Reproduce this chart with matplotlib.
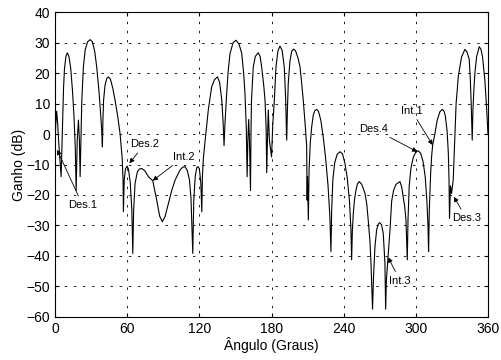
import matplotlib
matplotlib.use("Agg")
import matplotlib.pyplot as plt

plt.rcParams['font.family'] = ['Liberation Sans', 'DejaVu Sans']

# diagrama de radiacao (graus, dB)
angulo = [0, 0.5, 1.3, 2.2, 3.2, 4.3, 5,
          5.8, 6.5, 7.0, 7.8, 9, 10.2, 11.5, 13, 14.5, 15.8, 16.8, 17.5,
          18.4, 19.4, 20.2, 20.8,
          21.6, 22.2, 23.5, 25, 27, 29.1, 31, 33, 34.6, 36.5, 37.8, 38.8, 39.3,
          39.8, 40.3, 41.5, 43, 44.3, 46, 48, 50, 52, 54, 55.8, 56.5, 56.8,
          57.5, 58.5, 59.8, 61, 62.5, 63.8, 64.6,
          65.3, 66.5, 68.4, 70, 72, 74.5, 77.6, 81.2, 84.5, 87, 89.2, 91.5, 94.2, 97, 99.8, 103.9, 106, 108, 110, 111.7, 113, 114.5,
          115.3, 116.5, 117.8, 119, 120, 121.2, 122,
          122.5, 123.3, 124.8, 127.4, 130.2, 132.5, 135, 136.8, 138.6, 139.7, 140.5,
          141.2, 142.7, 144, 145.5, 148, 150.5, 153, 155.2, 156.8, 157.9, 159, 159.7,
          160.3, 161, 161.7, 162.5,
          162.9, 163.3, 164.8, 166.5, 169, 170.5, 171.8, 173.5, 174.6, 175.5, 176,
          176.6, 177.3, 178.2, 180,
          181, 182.3, 183.7, 185.3, 187, 188.8, 190.6, 191.7, 192.6,
          193.2, 193.9, 195.3, 196.8, 198.3, 200, 202, 203.7, 205, 206.4, 208, 209.2, 209.6, 209.9, 210.6,
          211.2, 212.2, 213.4, 214.7, 216, 217.5, 219, 221, 223, 225, 227, 228.5, 229.4,
          230, 231, 232.5, 234.5, 236.9, 239, 241, 243, 244.8, 246, 246.6,
          247.2, 248, 249, 250.2, 251.5, 253, 255, 257.7, 259.2, 260.4, 261.8, 262.7, 264,
          264.8, 266, 267.4, 268.7, 270, 271.5, 272.9, 274.3, 274.9,
          275.5, 276.8, 278.5, 279.9, 281.5, 283.5, 286.8, 288.3, 289.5, 290.8, 291.8, 292.4, 292.9,
          293.5, 294.5, 296, 298, 300, 302, 304, 306, 307.8, 309.2, 310.1, 310.6,
          311.2, 312.3, 313.2, 314, 315.9, 317.8, 320, 322, 323.5, 324.5, 326, 327, 327.6, 328,
          328.8, 329.7, 331.1,
          332.5, 333.5, 335.3, 338, 340.8, 342.5, 344.4, 345.3, 346, 346.9,
          347.5, 348.2, 349.1, 350.5, 352.7, 354.2, 355.5, 357.4, 358.8, 360]
ganho = [-4, 3, 7.5, 3, -4, -10, -14,
         -2, 8, 15, 21.5, 25.5, 26.7, 25.5, 21.5, 14, 5, -5, -18.5,
         -2, 4.6, -2, -14,
         0, 11, 22, 27.6, 30.3, 31, 30.3, 27, 22, 14, 7, 1, -4.2,
         5, 11, 16, 18.3, 18.8, 18, 15, 10.8, 6, 0.2, -8, -15, -25.5,
         -15, -11.5, -10.5, -11.5, -16, -25, -39.2,
         -25, -16.2, -12.4, -11.5, -11.3, -12, -14, -15.3, -21.7, -27, -28.8, -27, -22.8, -18.5, -15.1, -11.8, -10.9, -10.7, -12, -15, -21, -39.2,
         -22, -14, -11, -10.7, -11.5, -16, -25.5,
         -14, -8, -2, 7.9, 15.5, 17.8, 18.8, 17, 11.2, 4, -3.8,
         3, 13.4, 21, 26.5, 30, 30.8, 29.5, 26.5, 20, 13.4, 2, -14,
         -2, 4.8, -3, -18.6,
         0, 11, 22, 25.5, 26.7, 25.5, 22, 16, 11, 2, -12.7,
         -2, 7.9, -2, -7.5,
         3, 11, 22, 27.3, 28.9, 27.5, 22, 12, -2,
         8, 16.6, 24, 27.2, 27.9, 27.3, 25, 22, 17, 11, 3, -4, -21.7, -14, -28.2,
         -12, -3, 2.4, 6.2, 7.7, 8.1, 7.5, 4.5, -1, -8, -17, -27, -38.6,
         -25, -15, -9.5, -6.7, -5.8, -6.5, -9.5, -14.5, -22, -31, -41.3,
         -32, -26, -21.5, -18.4, -16.3, -15.6, -16.5, -19.4, -23, -28.2, -35, -42.4, -57.5,
         -47, -37, -31.5, -29.6, -29.1, -29.8, -32.6, -42.4, -57.5,
         -48, -41, -31.5, -22, -18.5, -16.5, -15.6, -17.5, -20.6, -24, -28.2, -35, -41.3,
         -28, -17, -11, -7.5, -5.9, -5.5, -6.3, -9, -14, -22, -30, -38.6,
         -25, -13, -7, -3.6, 0.2, 4.6, 7.3, 8.1, 7.5, 6, 1, -6, -15, -27.7,
         -17, -19.5, -15,
         0, 10, 18.8, 25.3, 27.8, 27, 24.6, 18, 10.6, -2,
         8, 14, 19.9, 25.3, 28.7, 27.8, 25.3, 17.7, 9, 0]

# anotacoes: texto, ponto da curva, posicao do texto
rotulos = ['Des.1', 'Des.2', 'Int.2', 'Int.1', 'Des.4', 'Des.3', 'Int.3']
alvos = [(1.7, -5.2), (61.8, -9.6), (81.2, -15.3), (314, -3.6), (301.2, -5.8), (331.7, -20.6), (277, -40.5)]
textos = [(10.8, -23.3), (62.5, -3.3), (98, -7.5), (287.3, 7.7), (253, 1.7), (329.8, -27.6), (277.9, -48.1)]

fig = plt.figure(figsize=(5.01, 3.6), dpi=100)
ax = fig.add_axes([0.110, 0.120, 0.864, 0.846])

ax.plot(angulo, ganho, color='k', lw=0.8)

for r, a, t in zip(rotulos, alvos, textos):
    ax.annotate(r, xy=a, xytext=t, fontsize=8, ha='left', va='center',
                arrowprops=dict(arrowstyle='-|>', color='k', lw=0.6,
                                mutation_scale=7, shrinkA=1, shrinkB=0))

ax.set_xlim(0, 360)
ax.set_ylim(-60, 40)
ax.set_xticks(range(0, 361, 60))
ax.set_yticks(range(-60, 41, 10))
ax.grid(True, color='k', linestyle=(0, (3, 8)), lw=0.6)
ax.tick_params(direction='in', top=True, right=True, length=3, labelsize=10)
for s in ax.spines.values():
    s.set_linewidth(0.8)

ax.set_xlabel('Ângulo (Graus)', fontsize=10, labelpad=1)
ax.set_ylabel('Ganho (dB)', fontsize=10, labelpad=0)

fig.savefig('out.png', dpi=100)
